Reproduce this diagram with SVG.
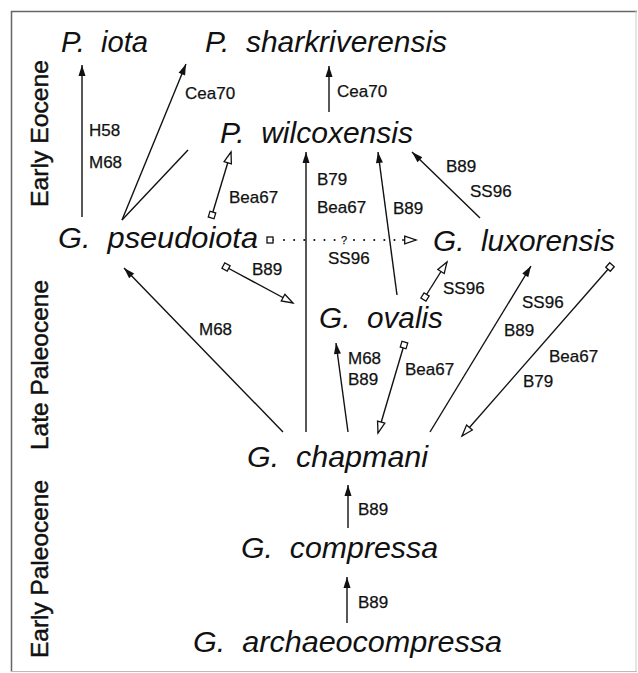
<svg xmlns="http://www.w3.org/2000/svg" width="638" height="673" viewBox="0 0 638 673">
<style>
.sp{font-family:"Liberation Sans",Arial,sans-serif;font-style:italic;font-size:30px;fill:#111;white-space:pre}
.ref{font-family:"Liberation Sans",Arial,sans-serif;font-size:17px;fill:#111;stroke:#111;stroke-width:0.25}
.per{font-family:"Liberation Sans",Arial,sans-serif;font-size:24px;fill:#111;stroke:#111;stroke-width:0.45}
.ln{stroke:#111;stroke-width:1.4;fill:none}
.dot{stroke:#111;stroke-width:2;fill:none;stroke-linecap:round;stroke-dasharray:0.1 10}
.arr{marker-end:url(#fa)}
.open{marker-end:url(#oa)}
.sq{marker-start:url(#sq)}
</style>
<defs>
<marker id="fa" markerUnits="userSpaceOnUse" markerWidth="12" markerHeight="8" refX="11" refY="4" orient="auto" overflow="visible">
<path d="M0,0.5 L11,4 L0,7.5 z" fill="#111"/>
</marker>
<marker id="oa" markerUnits="userSpaceOnUse" markerWidth="13" markerHeight="10" refX="12" refY="4.5" orient="auto" overflow="visible">
<path d="M0.7,0.7 L12,4.5 L0.7,8.3 z" fill="#fff" stroke="#111" stroke-width="1.3"/>
</marker>
<marker id="sq" markerUnits="userSpaceOnUse" markerWidth="8" markerHeight="8" refX="3" refY="3" orient="auto" overflow="visible">
<rect x="0" y="0" width="6" height="6" fill="#fff" stroke="#111" stroke-width="1.3"/>
</marker>
</defs>
<g id="frame">
<line x1="11" y1="11.5" x2="637" y2="11.5" stroke="#666" stroke-width="1.5"/>
<line x1="11.5" y1="11" x2="11.5" y2="672" stroke="#666" stroke-width="1.5"/>
<line x1="636" y1="11" x2="636" y2="672" stroke="#ccc" stroke-width="1"/>
<line x1="11" y1="671.5" x2="637" y2="671.5" stroke="#bbb" stroke-width="1"/>
</g>
<g id="periods">
<text class="per" transform="translate(48,207) rotate(-90)" textLength="147" lengthAdjust="spacingAndGlyphs">Early  Eocene</text>
<text class="per" transform="translate(48,450) rotate(-90)" textLength="170" lengthAdjust="spacingAndGlyphs">Late  Paleocene</text>
<text class="per" transform="translate(48,658) rotate(-90)" textLength="178" lengthAdjust="spacingAndGlyphs">Early  Paleocene</text>
</g>
<g id="connectors">
<line class="ln arr" x1="82" y1="217" x2="82" y2="65"/>
<line class="ln arr" x1="122" y1="220" x2="186" y2="64"/>
<line class="ln" x1="122" y1="220" x2="188" y2="150"/>
<line class="ln open sq" x1="212" y1="215" x2="231" y2="152"/>
<line class="ln arr" x1="329" y1="112" x2="329" y2="66"/>
<line class="ln arr" x1="306" y1="432" x2="306" y2="152"/>
<line class="ln arr" x1="397" y1="295" x2="378" y2="152"/>
<line class="ln arr" x1="480" y1="218" x2="412" y2="152"/>
<line class="ln sq" x1="270" y1="240" x2="274" y2="240"/>
<line class="dot" x1="284" y1="240" x2="336" y2="240"/>
<line class="dot" x1="354" y1="240" x2="396" y2="240"/>
<line class="ln open" x1="402" y1="240" x2="416" y2="240"/>
<line class="ln open sq" x1="226" y1="267" x2="293" y2="303"/>
<line class="ln arr" x1="283" y1="432" x2="124" y2="268"/>
<line class="ln open sq" x1="425" y1="297" x2="447" y2="262"/>
<line class="ln arr" x1="348" y1="432" x2="336" y2="343"/>
<line class="ln open sq" x1="404" y1="345" x2="378" y2="433"/>
<line class="ln arr" x1="430" y1="432" x2="531" y2="266"/>
<line class="ln open sq" x1="610" y1="267" x2="462" y2="436"/>
<line class="ln arr" x1="348" y1="528" x2="348" y2="485"/>
<line class="ln arr" x1="347" y1="623" x2="347" y2="577"/>
</g>
<g id="refs">
<text class="ref" x="185" y="99">Cea70</text>
<text class="ref" x="89" y="136">H58</text>
<text class="ref" x="89" y="168">M68</text>
<text class="ref" x="229" y="203">Bea67</text>
<text class="ref" x="337" y="97">Cea70</text>
<text class="ref" x="317" y="185">B79</text>
<text class="ref" x="317" y="213">Bea67</text>
<text class="ref" x="393" y="214">B89</text>
<text class="ref" x="446" y="172">B89</text>
<text class="ref" x="470" y="197">SS96</text>
<text class="ref" x="341" y="244" style="font-size:11px">?</text>
<text class="ref" x="328" y="264">SS96</text>
<text class="ref" x="252" y="275">B89</text>
<text class="ref" x="199" y="335">M68</text>
<text class="ref" x="443" y="294">SS96</text>
<text class="ref" x="522" y="308">SS96</text>
<text class="ref" x="504" y="336">B89</text>
<text class="ref" x="549" y="362">Bea67</text>
<text class="ref" x="523" y="387">B79</text>
<text class="ref" x="348" y="364">M68</text>
<text class="ref" x="348" y="385">B89</text>
<text class="ref" x="405" y="375">Bea67</text>
<text class="ref" x="358" y="515">B89</text>
<text class="ref" x="358" y="608">B89</text>
</g>
<g id="n-iota"><text class="sp" x="61" y="52" textLength="87" lengthAdjust="spacingAndGlyphs">P.  iota</text></g>
<g id="n-sharkriverensis"><text class="sp" x="205" y="52" textLength="242" lengthAdjust="spacingAndGlyphs">P.  sharkriverensis</text></g>
<g id="n-wilcoxensis"><text class="sp" x="220" y="143" textLength="193" lengthAdjust="spacingAndGlyphs">P.  wilcoxensis</text></g>
<g id="n-pseudoiota"><text class="sp" x="58" y="248" textLength="200" lengthAdjust="spacingAndGlyphs">G.  pseudoiota</text></g>
<g id="n-luxorensis"><text class="sp" x="433" y="251" textLength="182" lengthAdjust="spacingAndGlyphs">G.  luxorensis</text></g>
<g id="n-ovalis"><text class="sp" x="319" y="328" textLength="124" lengthAdjust="spacingAndGlyphs">G.  ovalis</text></g>
<g id="n-chapmani"><text class="sp" x="247" y="467" textLength="181" lengthAdjust="spacingAndGlyphs">G.  chapmani</text></g>
<g id="n-compressa"><text class="sp" x="241" y="558" textLength="197" lengthAdjust="spacingAndGlyphs">G.  compressa</text></g>
<g id="n-archaeocompressa"><text class="sp" x="193" y="652" textLength="309" lengthAdjust="spacingAndGlyphs">G.  archaeocompressa</text></g>
</svg>
